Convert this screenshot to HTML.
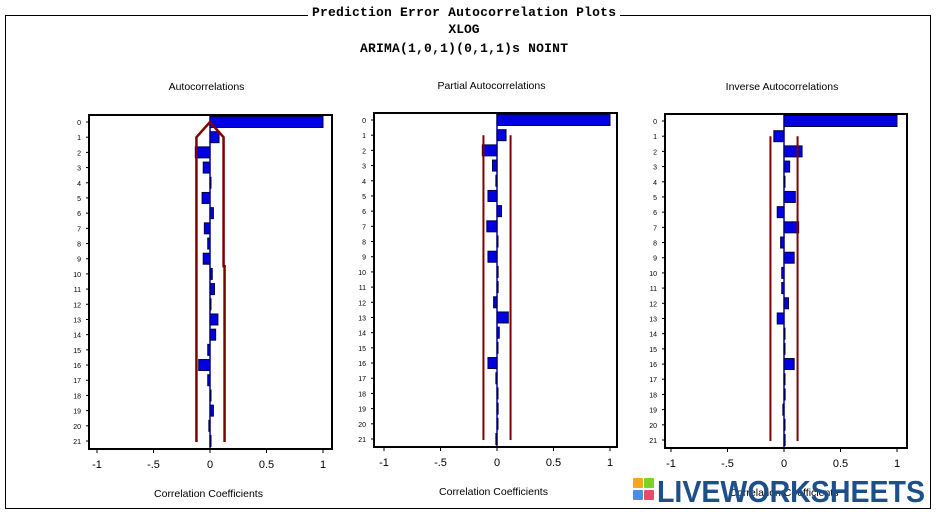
<!DOCTYPE html><html><head><meta charset="utf-8"><style>
body{margin:0;background:#fff;width:940px;height:514px;overflow:hidden}
svg{display:block}
</style></head><body>
<svg id="s" width="940" height="514" xmlns="http://www.w3.org/2000/svg" font-family="Liberation Sans, sans-serif">
<rect x="5.5" y="15.5" width="925" height="493" fill="none" stroke="#000" stroke-width="1"/>
<rect x="308" y="6" width="312" height="14" fill="#fff"/>
<g font-family="Liberation Mono, monospace" font-size="13" font-weight="bold" text-anchor="middle" fill="#000">
<text x="464" y="16" textLength="304">Prediction Error Autocorrelation Plots</text>
<text x="464" y="33">XLOG</text>
<text x="464" y="52" textLength="208">ARIMA(1,0,1)(0,1,1)s NOINT</text>
</g>
</svg>
<script>
var s=document.getElementById('s'),NS='http://www.w3.org/2000/svg';
function el(t,a,txt){var e=document.createElementNS(NS,t);for(var k in a)e.setAttribute(k,a[k]);if(txt!==undefined)e.textContent=txt;s.appendChild(e);return e;}
var P=[
{x0:89,x1:332,y0:115,y1:449,z:210,t:'Autocorrelations',ty:90,ly:497,
v:[1,.08,-.13,-.06,0,-.07,.03,-.05,-.02,-.06,.02,.04,0,.07,.05,-.02,-.1,-.02,0,.03,-.01,0],acf:1},
{x0:374,x1:617,y0:113,y1:447,z:497,t:'Partial Autocorrelations',ty:89,ly:495,
v:[1,.08,-.13,-.04,-.01,-.08,.04,-.09,0,-.08,.01,.01,-.03,.1,.02,0,-.08,-.01,0,.01,0,-.01]},
{x0:665,x1:907,y0:114,y1:448,z:784,t:'Inverse Autocorrelations',ty:90,ly:496,
v:[1,-.09,.16,.05,0,.1,-.06,.13,-.03,.09,-.02,-.02,.04,-.06,0,0,.09,0,.01,-.01,0,.01]}];
P.forEach(function(p){
 var sc=113,step=(p.y1-p.y0-15)/21,ry=function(i){return p.y0+7+i*step};
 el('text',{x:(p.x0+p.x1)/2-4,y:p.ty,'font-size':10.5,'text-anchor':'middle'},p.t);
 el('text',{x:(p.x0+p.x1)/2-2,y:p.ly,'font-size':10.5,'text-anchor':'middle'},'Correlation Coefficients');
 el('line',{x1:p.z,y1:p.y0,x2:p.z,y2:p.y1,stroke:'#0000cc','stroke-width':1.5});
 p.v.forEach(function(v,i){var y=ry(i),w=v*sc;if(Math.abs(w)<1)w=w<0?-1:1;
  el('rect',{x:Math.min(p.z,p.z+w),y:y-5.5,width:Math.abs(w),height:11,fill:'#0000e0',stroke:'#000040','stroke-width':1});
  el('text',{x:p.x0-8,y:y+3,'font-size':7,'text-anchor':'end'},i);
  el('line',{x1:p.x0-3,y1:y,x2:p.x0,y2:y,stroke:'#000'});
 });
 var L=.12*sc;
 if(p.acf){
  el('polyline',{points:(p.z-L)+','+(p.y1-7)+' '+(p.z-L)+','+ry(1)+' '+p.z+','+ry(0)+' '+(p.z+L)+','+ry(1)+' '+(p.z+L)+','+ry(9.5)+' '+(p.z+L+1)+','+ry(9.5)+' '+(p.z+L+1)+','+(p.y1-7),fill:'none',stroke:'#800000','stroke-width':2.5});
 } else {
  el('line',{x1:p.z-L,y1:ry(1),x2:p.z-L,y2:p.y1-7,stroke:'#800000','stroke-width':2});
  el('line',{x1:p.z+L,y1:ry(1),x2:p.z+L,y2:p.y1-7,stroke:'#800000','stroke-width':2});
 }
 el('rect',{x:p.x0,y:p.y0,width:p.x1-p.x0,height:p.y1-p.y0,fill:'none',stroke:'#000','stroke-width':2});
 [[-1,'-1'],[-.5,'-.5'],[0,'0'],[.5,'0.5'],[1,'1']].forEach(function(t){var x=p.z+t[0]*sc;
  el('line',{x1:x,y1:p.y1,x2:x,y2:p.y1+4,stroke:'#000'});
  el('text',{x:x,y:p.y1+19,'font-size':11,'text-anchor':'middle'},t[1]);});
});
var c=[['#f5a623',633,478],['#7ed321',644,478],['#4a90e2',633,490],['#e94b6a',644,490]];
c.forEach(function(q){el('rect',{x:q[1],y:q[2],width:10,height:10,fill:q[0],rx:1});});
el('text',{x:657,y:502,'font-size':31,'font-weight':'bold',fill:'#1d4f8a',textLength:268,lengthAdjust:'spacingAndGlyphs'},'LIVEWORKSHEETS');
</script>
</body></html>
